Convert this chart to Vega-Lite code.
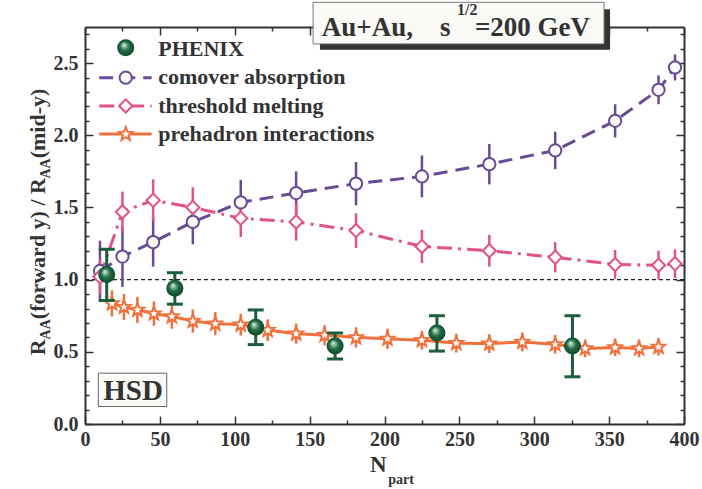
{
  "$schema": "https://vega.github.io/schema/vega-lite/v6.json",
  "width": 599,
  "height": 397,
  "autosize": "none",
  "padding": {"left": 85, "top": 27, "right": 18, "bottom": 65},
  "background": "white",
  "config": {
    "view": {"stroke": null},
    "font": "Liberation Serif",
    "axis": {
      "labelFont": "Liberation Serif",
      "labelFontWeight": "bold",
      "labelFontSize": 20,
      "labelColor": "#333333",
      "tickColor": "#333333",
      "domainColor": "#333333",
      "domainWidth": 2,
      "tickWidth": 1.5,
      "grid": false
    }
  },
  "datasets": {
    "models": [
      {"m": "comover", "x": 10, "y": 1.06, "lo": 0.85, "hi": 1.27},
      {"m": "comover", "x": 25, "y": 1.16, "lo": 0.95, "hi": 1.37},
      {"m": "comover", "x": 45.5, "y": 1.26, "lo": 1.09, "hi": 1.43},
      {"m": "comover", "x": 72, "y": 1.40, "lo": 1.245, "hi": 1.555},
      {"m": "comover", "x": 104, "y": 1.535, "lo": 1.38, "hi": 1.69},
      {"m": "comover", "x": 141, "y": 1.60, "lo": 1.45, "hi": 1.75},
      {"m": "comover", "x": 181, "y": 1.665, "lo": 1.515, "hi": 1.815},
      {"m": "comover", "x": 225, "y": 1.715, "lo": 1.57, "hi": 1.86},
      {"m": "comover", "x": 270, "y": 1.80, "lo": 1.66, "hi": 1.94},
      {"m": "comover", "x": 314, "y": 1.895, "lo": 1.765, "hi": 2.025},
      {"m": "comover", "x": 354, "y": 2.10, "lo": 1.985, "hi": 2.215},
      {"m": "comover", "x": 383, "y": 2.315, "lo": 2.215, "hi": 2.415},
      {"m": "comover", "x": 394, "y": 2.47, "lo": 2.38, "hi": 2.56},
      {"m": "threshold", "x": 10, "y": 1.02, "lo": 0.90, "hi": 1.14},
      {"m": "threshold", "x": 25, "y": 1.47, "lo": 1.33, "hi": 1.61},
      {"m": "threshold", "x": 45.5, "y": 1.55, "lo": 1.405, "hi": 1.695},
      {"m": "threshold", "x": 72, "y": 1.50, "lo": 1.36, "hi": 1.64},
      {"m": "threshold", "x": 104, "y": 1.425, "lo": 1.295, "hi": 1.555},
      {"m": "threshold", "x": 141, "y": 1.40, "lo": 1.27, "hi": 1.53},
      {"m": "threshold", "x": 181, "y": 1.34, "lo": 1.22, "hi": 1.46},
      {"m": "threshold", "x": 225, "y": 1.23, "lo": 1.115, "hi": 1.345},
      {"m": "threshold", "x": 270, "y": 1.20, "lo": 1.09, "hi": 1.31},
      {"m": "threshold", "x": 314, "y": 1.155, "lo": 1.05, "hi": 1.26},
      {"m": "threshold", "x": 354, "y": 1.105, "lo": 1.005, "hi": 1.205},
      {"m": "threshold", "x": 383, "y": 1.10, "lo": 1.0, "hi": 1.2},
      {"m": "threshold", "x": 394, "y": 1.11, "lo": 1.01, "hi": 1.21},
      {"m": "prehadron", "x": 18, "y": 0.835, "lo": 0.745, "hi": 0.925},
      {"m": "prehadron", "x": 26, "y": 0.81, "lo": 0.72, "hi": 0.90},
      {"m": "prehadron", "x": 35, "y": 0.79, "lo": 0.70, "hi": 0.88},
      {"m": "prehadron", "x": 46, "y": 0.765, "lo": 0.68, "hi": 0.85},
      {"m": "prehadron", "x": 58, "y": 0.745, "lo": 0.66, "hi": 0.83},
      {"m": "prehadron", "x": 72, "y": 0.713, "lo": 0.633, "hi": 0.793},
      {"m": "prehadron", "x": 87, "y": 0.695, "lo": 0.615, "hi": 0.775},
      {"m": "prehadron", "x": 104, "y": 0.688, "lo": 0.613, "hi": 0.763},
      {"m": "prehadron", "x": 122, "y": 0.65, "lo": 0.575, "hi": 0.725},
      {"m": "prehadron", "x": 141, "y": 0.626, "lo": 0.556, "hi": 0.696},
      {"m": "prehadron", "x": 160, "y": 0.615, "lo": 0.545, "hi": 0.685},
      {"m": "prehadron", "x": 181, "y": 0.60, "lo": 0.53, "hi": 0.67},
      {"m": "prehadron", "x": 202, "y": 0.59, "lo": 0.52, "hi": 0.66},
      {"m": "prehadron", "x": 225, "y": 0.58, "lo": 0.515, "hi": 0.645},
      {"m": "prehadron", "x": 248, "y": 0.56, "lo": 0.495, "hi": 0.625},
      {"m": "prehadron", "x": 270, "y": 0.557, "lo": 0.492, "hi": 0.622},
      {"m": "prehadron", "x": 292, "y": 0.568, "lo": 0.503, "hi": 0.633},
      {"m": "prehadron", "x": 314, "y": 0.552, "lo": 0.487, "hi": 0.617},
      {"m": "prehadron", "x": 334, "y": 0.523, "lo": 0.463, "hi": 0.583},
      {"m": "prehadron", "x": 354, "y": 0.53, "lo": 0.47, "hi": 0.59},
      {"m": "prehadron", "x": 370, "y": 0.523, "lo": 0.463, "hi": 0.583},
      {"m": "prehadron", "x": 383, "y": 0.534, "lo": 0.474, "hi": 0.594}
    ],
    "phenix": [
      {"x": 14.5, "y": 1.035, "lo": 0.855, "hi": 1.21},
      {"x": 60, "y": 0.94, "lo": 0.83, "hi": 1.048},
      {"x": 114, "y": 0.67, "lo": 0.55, "hi": 0.79},
      {"x": 167, "y": 0.54, "lo": 0.45, "hi": 0.63},
      {"x": 235, "y": 0.63, "lo": 0.505, "hi": 0.75},
      {"x": 325.5, "y": 0.54, "lo": 0.327, "hi": 0.75}
    ],
    "legendLines": [
      {"m": "comover", "x": 9.5, "x2": 44.5, "y": 2.399},
      {"m": "threshold", "x": 9.5, "x2": 44.5, "y": 2.203},
      {"m": "prehadron", "x": 9.5, "x2": 44.5, "y": 2.008}
    ],
    "legendSymbols": [
      {"m": "comover", "x": 27.2, "y": 2.399},
      {"m": "threshold", "x": 27.2, "y": 2.203},
      {"m": "prehadron", "x": 27.2, "y": 2.008}
    ],
    "legendPhenix": [{"x": 27.2, "y": 2.606}],
    "legendText": [
      {"t": "PHENIX", "x": 48.9, "y": 2.548},
      {"t": "comover absorption", "x": 48.9, "y": 2.353},
      {"t": "threshold melting", "x": 48.9, "y": 2.157},
      {"t": "prehadron interactions", "x": 48.9, "y": 1.961}
    ]
  },
  "encoding": {
    "x": {"field": "x", "type": "quantitative", "scale": {"domain": [0, 400], "nice": false, "zero": false}, "axis": null},
    "y": {"field": "y", "type": "quantitative", "scale": {"domain": [0, 2.75], "nice": false, "zero": false}, "axis": null}
  },
  "layer": [
    {
      "data": {"values": [{"x": 0, "x2": 400, "y": 1}]},
      "mark": {"type": "rule", "color": "#222222", "strokeWidth": 1.2, "strokeDash": [4, 3]},
      "encoding": {"x2": {"field": "x2"}}
    },
    {
      "data": {"name": "models"},
      "mark": {"type": "rule", "strokeWidth": 2.5},
      "encoding": {
        "x": {"field": "x", "type": "quantitative", "scale": {"domain": [0, 400], "nice": false, "zero": false},
              "axis": {"orient": "top", "values": [0, 50, 100, 150, 200, 250, 300, 350, 400], "tickSize": -8, "labels": false, "title": null}},
        "y": {"field": "lo", "type": "quantitative", "scale": {"domain": [0, 2.75], "nice": false, "zero": false},
              "axis": {"orient": "right", "values": [0, 0.5, 1, 1.5, 2, 2.5], "tickSize": -8, "labels": false, "title": null}},
        "y2": {"field": "hi"},
        "color": {"field": "m", "type": "nominal", "scale": {"domain": ["comover", "threshold", "prehadron"], "range": ["#684b92", "#e0528a", "#f0703c"]}, "legend": null}
      }
    },
    {
      "data": {"name": "models"},
      "mark": {"type": "line", "strokeWidth": 3},
      "encoding": {
        "x": {"field": "x", "type": "quantitative", "scale": {"domain": [0, 400], "nice": false, "zero": false},
              "axis": {"orient": "bottom", "values": [0, 50, 100, 150, 200, 250, 300, 350, 400], "tickSize": -8, "labelPadding": 13, "labelFlush": false, "labelOverlap": false, "title": null}},
        "y": {"field": "y", "type": "quantitative", "scale": {"domain": [0, 2.75], "nice": false, "zero": false},
              "axis": {"orient": "left", "values": [0, 0.5, 1, 1.5, 2, 2.5], "format": ".1f", "tickSize": -8, "labelPadding": 15, "labelFlush": false, "labelOverlap": false, "title": null}},
        "color": {"field": "m", "type": "nominal", "scale": {"domain": ["comover", "threshold", "prehadron"], "range": ["#684b92", "#e0528a", "#f0703c"]}, "legend": null},
        "strokeDash": {"field": "m", "type": "nominal", "scale": {"domain": ["comover", "threshold", "prehadron"], "range": [[14, 8], [15, 6, 3, 6], [1, 0]]}, "legend": null}
      }
    },
    {
      "data": {"name": "models"},
      "mark": {"type": "point", "filled": true, "fill": "#fbfbf8", "fillOpacity": 1, "opacity": 1, "strokeWidth": 2},
      "encoding": {
        "x": {"field": "x", "type": "quantitative", "scale": {"domain": [0, 400], "nice": false, "zero": false},
              "axis": {"orient": "bottom", "values": [25, 75, 125, 175, 225, 275, 325, 375], "tickSize": -4, "labels": false, "domain": false, "title": null}},
        "y": {"field": "y", "type": "quantitative", "scale": {"domain": [0, 2.75], "nice": false, "zero": false},
              "axis": {"orient": "left", "values": [0.1, 0.2, 0.3, 0.4, 0.6, 0.7, 0.8, 0.9, 1.1, 1.2, 1.3, 1.4, 1.6, 1.7, 1.8, 1.9, 2.1, 2.2, 2.3, 2.4, 2.6, 2.7], "tickSize": -4, "labels": false, "domain": false, "title": null}},
        "stroke": {"field": "m", "type": "nominal", "scale": {"domain": ["comover", "threshold", "prehadron"], "range": ["#684b92", "#e0528a", "#f0703c"]}, "legend": null},
        "shape": {"field": "m", "type": "nominal", "scale": {"domain": ["comover", "threshold", "prehadron"], "range": ["circle", "diamond", "M0,-1L0.247,-0.34L0.951,-0.309L0.399,0.13L0.588,0.809L0,0.42L-0.588,0.809L-0.399,0.13L-0.951,-0.309L-0.247,-0.34Z"]}, "legend": null},
        "size": {"field": "m", "type": "nominal", "scale": {"domain": ["comover", "threshold", "prehadron"], "range": [150, 200, 150]}, "legend": null}
      }
    },
    {
      "data": {"name": "phenix"},
      "mark": {"type": "rule", "strokeWidth": 3, "color": "#1c5e3c"},
      "encoding": {
        "x": {"field": "x", "type": "quantitative", "scale": {"domain": [0, 400], "nice": false, "zero": false},
              "axis": {"orient": "top", "values": [25, 75, 125, 175, 225, 275, 325, 375], "tickSize": -4, "labels": false, "domain": false, "title": null}},
        "y": {"field": "lo", "type": "quantitative", "scale": {"domain": [0, 2.75], "nice": false, "zero": false},
              "axis": {"orient": "right", "values": [0.1, 0.2, 0.3, 0.4, 0.6, 0.7, 0.8, 0.9, 1.1, 1.2, 1.3, 1.4, 1.6, 1.7, 1.8, 1.9, 2.1, 2.2, 2.3, 2.4, 2.6, 2.7], "tickSize": -4, "labels": false, "domain": false, "title": null}},
        "y2": {"field": "hi"}
      }
    },
    {
      "data": {"name": "phenix"},
      "mark": {"type": "tick", "orient": "horizontal", "size": 16, "thickness": 3, "color": "#1c5e3c", "opacity": 1},
      "encoding": {"y": {"field": "lo", "type": "quantitative", "scale": {"domain": [0, 2.75], "nice": false, "zero": false}, "axis": null}}
    },
    {
      "data": {"name": "phenix"},
      "mark": {"type": "tick", "orient": "horizontal", "size": 16, "thickness": 3, "color": "#1c5e3c", "opacity": 1},
      "encoding": {"y": {"field": "hi", "type": "quantitative", "scale": {"domain": [0, 2.75], "nice": false, "zero": false}, "axis": null}}
    },
    {
      "data": {"name": "phenix"},
      "mark": {"type": "point", "filled": true, "size": 290, "opacity": 1, "strokeWidth": 0,
               "fill": {"gradient": "radial", "x1": 0.38, "y1": 0.32, "r1": 0, "x2": 0.5, "y2": 0.5, "r2": 0.55,
                        "stops": [{"offset": 0, "color": "#f4fbf5"}, {"offset": 0.2, "color": "#8fbf9f"}, {"offset": 0.5, "color": "#206b45"}, {"offset": 1, "color": "#0f4327"}]}}
    },
    {
      "data": {"name": "legendLines"},
      "mark": {"type": "rule", "strokeWidth": 3},
      "encoding": {
        "x2": {"field": "x2"},
        "color": {"field": "m", "type": "nominal", "scale": {"domain": ["comover", "threshold", "prehadron"], "range": ["#684b92", "#e0528a", "#f0703c"]}, "legend": null},
        "strokeDash": {"field": "m", "type": "nominal", "scale": {"domain": ["comover", "threshold", "prehadron"], "range": [[14, 8], [15, 6, 3, 6], [1, 0]]}, "legend": null}
      }
    },
    {
      "data": {"name": "legendSymbols"},
      "mark": {"type": "point", "filled": true, "fill": "#fbfbf8", "fillOpacity": 1, "opacity": 1, "strokeWidth": 2},
      "encoding": {
        "stroke": {"field": "m", "type": "nominal", "scale": {"domain": ["comover", "threshold", "prehadron"], "range": ["#684b92", "#e0528a", "#f0703c"]}, "legend": null},
        "shape": {"field": "m", "type": "nominal", "scale": {"domain": ["comover", "threshold", "prehadron"], "range": ["circle", "diamond", "M0,-1L0.247,-0.34L0.951,-0.309L0.399,0.13L0.588,0.809L0,0.42L-0.588,0.809L-0.399,0.13L-0.951,-0.309L-0.247,-0.34Z"]}, "legend": null},
        "size": {"field": "m", "type": "nominal", "scale": {"domain": ["comover", "threshold", "prehadron"], "range": [150, 200, 150]}, "legend": null}
      }
    },
    {
      "data": {"name": "legendPhenix"},
      "mark": {"type": "point", "filled": true, "size": 290, "opacity": 1, "strokeWidth": 0,
               "fill": {"gradient": "radial", "x1": 0.38, "y1": 0.32, "r1": 0, "x2": 0.5, "y2": 0.5, "r2": 0.55,
                        "stops": [{"offset": 0, "color": "#f4fbf5"}, {"offset": 0.2, "color": "#8fbf9f"}, {"offset": 0.5, "color": "#206b45"}, {"offset": 1, "color": "#0f4327"}]}}
    },
    {
      "data": {"name": "legendText"},
      "mark": {"type": "text", "align": "left", "baseline": "alphabetic", "font": "Liberation Serif", "fontWeight": "bold", "fontSize": 22, "color": "#333333"},
      "encoding": {"text": {"field": "t"}}
    },
    {
      "data": {"values": [{"x": 156.9, "x2": 350.6, "y": 2.873, "y2": 2.593}]},
      "mark": {"type": "rect", "color": "#333333"},
      "encoding": {"x2": {"field": "x2"}, "y2": {"field": "y2"}}
    },
    {
      "data": {"values": [{"x": 152.3, "x2": 346.6, "y": 2.921, "y2": 2.633}]},
      "mark": {"type": "rect", "fill": "#fafaf7", "stroke": "#777777", "strokeWidth": 1},
      "encoding": {"x2": {"field": "x2"}, "y2": {"field": "y2"}}
    },
    {
      "data": {"values": [{"t": "Au+Au,", "x": 158.1, "y": 2.686}, {"t": "s", "x": 237.1, "y": 2.686}, {"t": "=200 GeV", "x": 260.4, "y": 2.686}]},
      "mark": {"type": "text", "align": "left", "baseline": "alphabetic", "font": "Liberation Serif", "fontWeight": "bold", "fontSize": 27, "color": "#333333"},
      "encoding": {"text": {"field": "t"}}
    },
    {
      "data": {"values": [{"t": "1/2", "x": 248.4, "y": 2.83}]},
      "mark": {"type": "text", "align": "left", "baseline": "alphabetic", "font": "Liberation Serif", "fontWeight": "bold", "fontSize": 16, "color": "#333333"},
      "encoding": {"text": {"field": "t"}}
    },
    {
      "data": {"values": [{"x": 8.9, "x2": 54.6, "y": 0.352, "y2": 0.121}]},
      "mark": {"type": "rect", "fill": "#f9f9f6", "stroke": "#666666", "strokeWidth": 1},
      "encoding": {"x2": {"field": "x2"}, "y2": {"field": "y2"}}
    },
    {
      "data": {"values": [{"t": "HSD", "x": 12.2, "y": 0.166}]},
      "mark": {"type": "text", "align": "left", "baseline": "alphabetic", "font": "Liberation Serif", "fontWeight": "bold", "fontSize": 29, "color": "#333333"},
      "encoding": {"text": {"field": "t"}}
    },
    {
      "data": {"values": [{"t": "R", "x": -26.7, "y": 0.4765}, {"t": "(forward y) / R", "x": -26.7, "y": 0.726}, {"t": "(mid-y)", "x": -26.7, "y": 1.84}]},
      "mark": {"type": "text", "align": "left", "baseline": "alphabetic", "angle": 270, "font": "Liberation Serif", "fontWeight": "bold", "fontSize": 22, "color": "#333333"},
      "encoding": {"text": {"field": "t"}}
    },
    {
      "data": {"values": [{"t": "AA", "x": -23.4, "y": 0.586}, {"t": "AA", "x": -23.4, "y": 1.70}]},
      "mark": {"type": "text", "align": "left", "baseline": "alphabetic", "angle": 270, "font": "Liberation Serif", "fontWeight": "bold", "fontSize": 14, "color": "#333333"},
      "encoding": {"text": {"field": "t"}}
    },
    {
      "data": {"values": [{"t": "N", "x": 190.3, "y": -0.331}]},
      "mark": {"type": "text", "align": "left", "baseline": "alphabetic", "font": "Liberation Serif", "fontWeight": "bold", "fontSize": 23, "color": "#333333"},
      "encoding": {"text": {"field": "t"}}
    },
    {
      "data": {"values": [{"t": "part", "x": 202.5, "y": -0.414}]},
      "mark": {"type": "text", "align": "left", "baseline": "alphabetic", "font": "Liberation Serif", "fontWeight": "bold", "fontSize": 14, "color": "#333333"},
      "encoding": {"text": {"field": "t"}}
    }
  ],
  "resolve": {"axis": {"x": "independent", "y": "independent"}}
}
